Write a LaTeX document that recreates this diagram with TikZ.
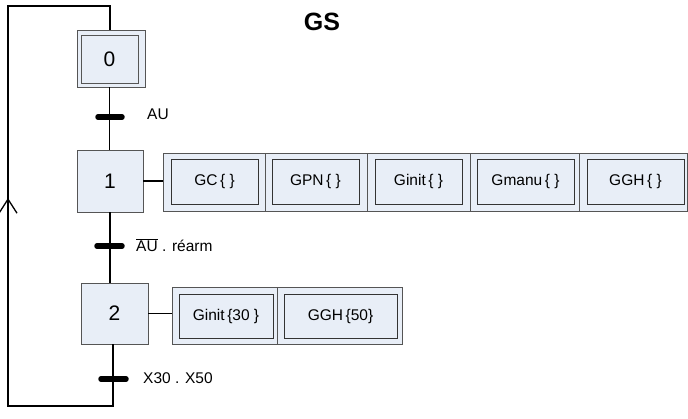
\documentclass[tikz,border=0pt]{standalone}
\usepackage{fontspec}
\setmainfont{Liberation Sans}
\usetikzlibrary{arrows.meta}
\definecolor{stepfill}{HTML}{E8EEF7}
\definecolor{boxline}{HTML}{555555}
\tikzset{
  stepbox/.style={draw=boxline, fill=stepfill, line width=0.9pt, minimum width=#1, inner sep=0pt, font=\fontsize{21}{23}\selectfont},
  outerbox/.style={draw=boxline, fill=stepfill, line width=0.8pt, inner sep=0pt},
  innerbox/.style={draw=black!80, fill=stepfill, line width=0.8pt, inner sep=0pt, font=\fontsize{15.5}{17}\selectfont},
  link/.style={line width=1.3pt},
  bar/.style={line width=5.5pt, line cap=round},
  lab/.style={anchor=west, inner sep=0pt, font=\fontsize{15.5}{17}\selectfont},
}
\begin{document}
\begin{tikzpicture}[x=1pt,y=-1pt]
\useasboundingbox (0,0) rectangle (688,419);
% title
\node[font=\fontsize{25}{28}\selectfont\bfseries] (title) at (322,22) {GS};
% step 0
\node[outerbox, minimum width=68pt, minimum height=57pt] (s0o) at (111,58.5) {};
\node[stepbox=57pt, minimum height=48pt] (s0) at (109.5,59) {0};
% step 1
\node[stepbox=66pt, minimum height=62pt] (s1) at (110,181) {1};
% step 2
\node[stepbox=67pt, minimum height=61pt] (s2) at (114.5,313.5) {2};
% actions step 1
\node[outerbox, minimum width=102pt, minimum height=58pt] (a1o) at (214,182) {};
\node[innerbox, minimum width=87pt, minimum height=45pt] (a1) at (214.5,181.5) {GC\,\{ \}};
\node[outerbox, minimum width=102pt, minimum height=58pt] (a2o) at (316,182) {};
\node[innerbox, minimum width=87pt, minimum height=45pt] (a2) at (315.5,181.5) {GPN\,\{ \}};
\node[outerbox, minimum width=103pt, minimum height=58pt] (a3o) at (418.5,182) {};
\node[innerbox, minimum width=87pt, minimum height=45pt] (a3) at (418.5,181.5) {Ginit\,\{ \}};
\node[outerbox, minimum width=109pt, minimum height=58pt] (a4o) at (524.5,182) {};
\node[innerbox, minimum width=97pt, minimum height=45pt] (a4) at (525.5,181.5) {Gmanu\,\{ \}};
\node[outerbox, minimum width=108pt, minimum height=58pt] (a5o) at (633,182) {};
\node[innerbox, minimum width=97pt, minimum height=45pt] (a5) at (635.5,181.5) {GGH\,\{ \}};
% actions step 2
\node[outerbox, minimum width=105pt, minimum height=57pt] (b1o) at (224.5,315.5) {};
\node[innerbox, minimum width=94pt, minimum height=44pt] (b1) at (226,316) {Ginit\,\{30 \}};
\node[outerbox, minimum width=125pt, minimum height=57pt] (b2o) at (339.5,315.5) {};
\node[innerbox, minimum width=113pt, minimum height=44pt] (b2) at (340.5,316) {GGH\,\{50\}};
% action links
\draw[link] (s1.east) -- (a1o.west |- s1.east);
\draw[link] (s2.east) -- (b1o.west |- s2.east);
% vertical links
\draw[link] (s0o.south -| s0.center) -- (s1.north -| s0.center);
\draw[link] (s1.south) -- (s1.south |- s2.north);
% transitions
\coordinate (t0) at (110,117);
\coordinate (t1) at (110,246);
\coordinate (t2) at (113,379);
\draw[bar] ([xshift=-12pt]t0) -- ([xshift=12pt]t0);
\draw[bar] ([xshift=-13pt]t1) -- ([xshift=12pt]t1);
\draw[bar] ([xshift=-12pt]t2) -- ([xshift=13pt]t2);
\node[lab] (l0) at (147,114) {AU};
\node[lab] (l1) at (136,245) {$\overline{\hbox{AU}}$ . réarm};
\node[lab] (l2) at (143,378) {X30 . X50};
% loop back
\coordinate (c1) at (113,406);
\coordinate (c2) at (8,406);
\coordinate (c3) at (8,6);
\coordinate (c4) at (110,6);
\coordinate (cm) at (8,198);
\draw[link] (c1 |- s2.south) -- (c1) -- (c2) -- (c3) -- (c4) -- (s0o.north -| c4);
\draw[link, -{Straight Barb[length=14pt,width=18pt,line width=1.3pt]}] (c2) -- (cm);
\end{tikzpicture}
\end{document}
